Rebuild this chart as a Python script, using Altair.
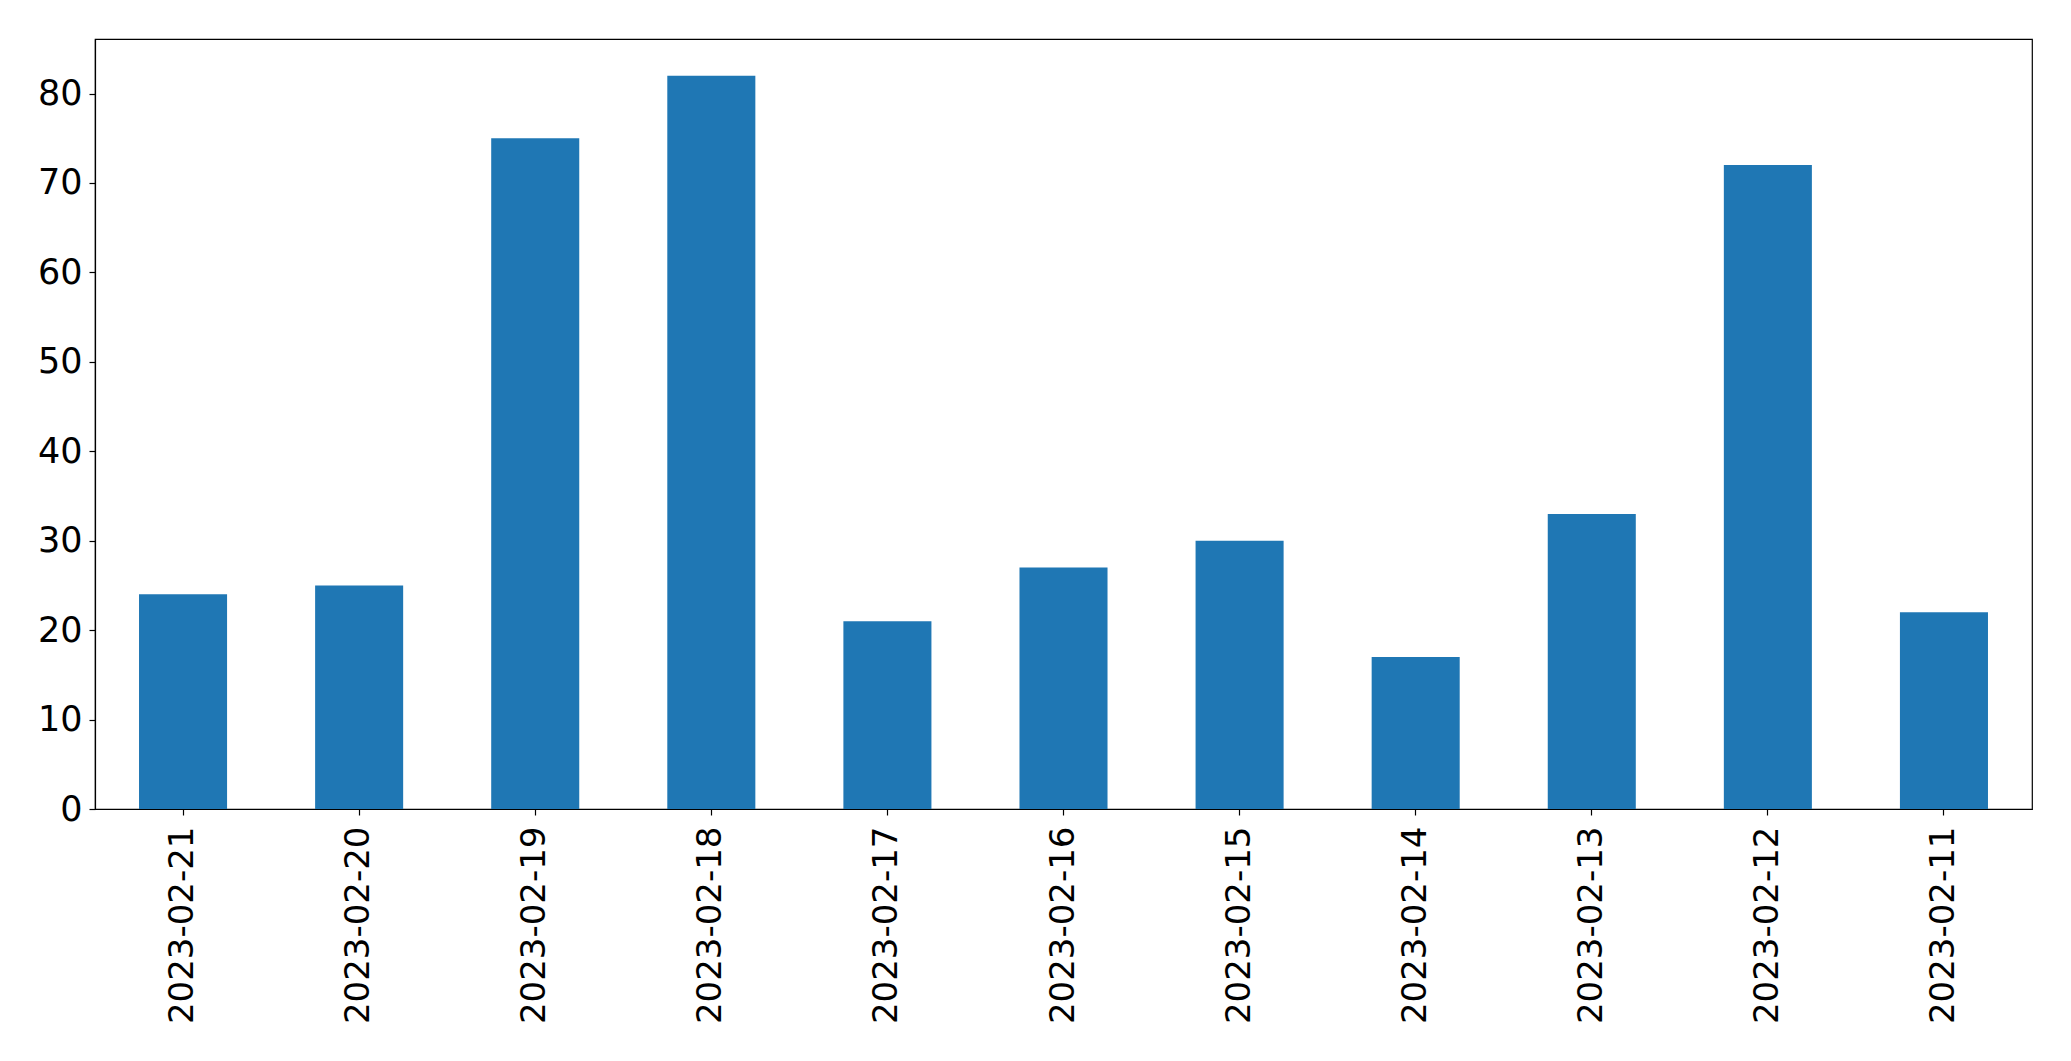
import altair as alt
import pandas as pd

dates = ["2023-02-21", "2023-02-20", "2023-02-19", "2023-02-18", "2023-02-17",
         "2023-02-16", "2023-02-15", "2023-02-14", "2023-02-13", "2023-02-12",
         "2023-02-11"]
counts = [24, 25, 75, 82, 21, 27, 30, 17, 33, 72, 22]
y_ticks = [0, 10, 20, 30, 40, 50, 60, 70, 80]

df = pd.DataFrame({"date": dates, "count": counts})

FONT = "DejaVu Sans"

chart = alt.Chart(df).mark_bar(color="#1f77b4").encode(
    x=alt.X("date:N", sort=dates, title=None,
            scale=alt.Scale(paddingInner=0.5, paddingOuter=0.25),
            axis=alt.Axis(labelAngle=270, labelAlign="right", labelBaseline="middle",
                          labelFontSize=34, labelFont=FONT, labelColor="black",
                          labelLimit=0,
                          tickSize=6, tickColor="black", tickWidth=1.2,
                          domainColor="black", domainWidth=1.2, labelPadding=11,
                          grid=False)),
    y=alt.Y("count:Q", title=None,
            scale=alt.Scale(domain=[0, 86.1], nice=False, zero=True),
            axis=alt.Axis(values=y_ticks, labelFontSize=35, labelFont=FONT,
                          labelColor="black", tickSize=6, tickColor="black",
                          tickWidth=1.2, domainColor="black", domainWidth=1.2,
                          labelPadding=7, grid=False)),
).properties(
    width=1937,
    height=770,
    autosize=alt.AutoSizeParams(type="none"),
    padding={"left": 87, "top": 31, "right": 30, "bottom": 240},
    background="white",
).configure_view(
    stroke="black", strokeWidth=1.2
)

chart.save("out.html", embed_options={"renderer": "svg", "actions": False})
